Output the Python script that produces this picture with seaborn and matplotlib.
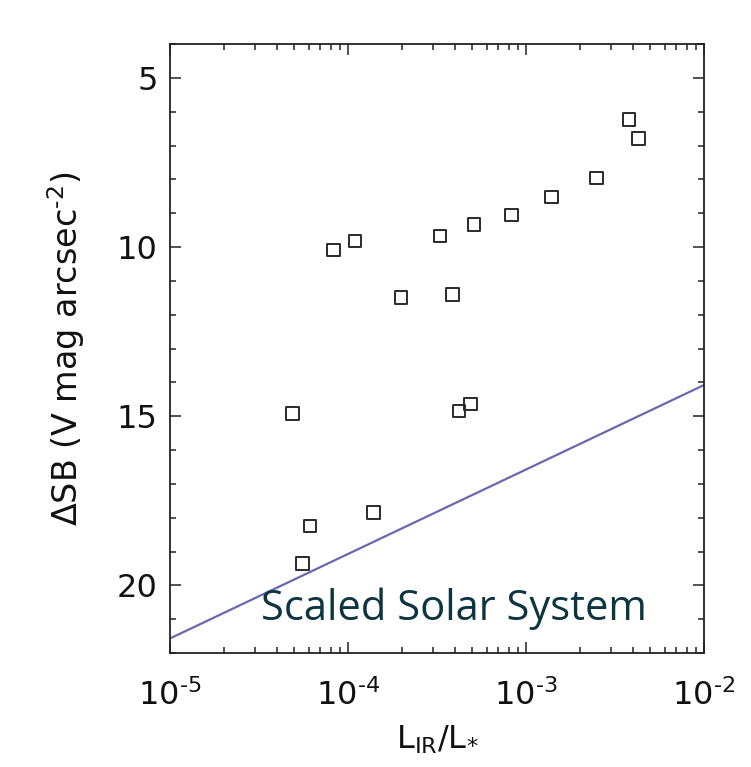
import numpy as np
import pandas as pd
import matplotlib
matplotlib.use("Agg")
import matplotlib.pyplot as plt
import seaborn as sns
from matplotlib.ticker import LogLocator, MultipleLocator, FixedLocator, FixedFormatter

# Data
lir = [4.86e-5, 5.57e-5, 6.11e-5, 8.27e-5, 1.095e-4, 1.387e-4, 1.985e-4,
       3.29e-4, 3.87e-4, 4.20e-4, 4.89e-4, 5.11e-4, 8.31e-4, 1.394e-3,
       2.49e-3, 3.80e-3, 4.30e-3]
dsb = [14.92, 19.36, 18.25, 10.09, 9.82, 17.85, 11.49,
       9.67, 11.40, 14.85, 14.64, 9.33, 9.06, 8.52,
       7.96, 6.24, 6.80]
solar_x = [1e-5, 1e-2]
solar_y = [21.57, 14.08]
yticks = [5, 10, 15, 20]
xticks = [1e-5, 1e-4, 1e-3, 1e-2]
xtick_labels = ["10$^{\u20105}$", "10$^{\u20104}$", "10$^{\u20103}$", "10$^{\u20102}$"]

sns.set_theme(style="ticks")
plt.rcParams['font.family'] = ['DejaVu Sans']
plt.rcParams['mathtext.fontset'] = 'custom'
plt.rcParams['mathtext.rm'] = 'DejaVu Sans'
plt.rcParams['mathtext.it'] = 'DejaVu Sans'
plt.rcParams['mathtext.default'] = 'regular'
plt.rcParams['axes.unicode_minus'] = False

fig = plt.figure(figsize=(7.51, 7.67), dpi=100)
ax = fig.add_axes([170/751, 1-653/767, (704-170)/751, (653-44)/767])

df = pd.DataFrame({"x": lir, "y": dsb})
sns.lineplot(x=solar_x, y=solar_y, ax=ax, color="#6868b0", linewidth=1.6)
sns.scatterplot(data=df, x="x", y="y", ax=ax, marker="s", s=82,
                facecolor="none", edgecolor="#2a2a2a", linewidth=1.4, zorder=3)

ax.set_xscale("log")
ax.set_xlim(1e-5, 1e-2)
ax.set_ylim(22, 4)
ax.set_yticks(yticks)
ax.yaxis.set_minor_locator(MultipleLocator(1))
ax.xaxis.set_major_locator(FixedLocator(xticks))
ax.xaxis.set_major_formatter(FixedFormatter(xtick_labels))
ax.xaxis.set_minor_locator(LogLocator(base=10, subs=np.arange(2, 10), numticks=20))

ax.tick_params(which="both", direction="in", top=True, right=True, colors="#222222",
               width=1.1)
ax.tick_params(which="major", length=8, labelsize=23, labelcolor="#111111")
ax.tick_params(which="minor", length=4.5)
ax.tick_params(axis="y", which="major", pad=9)
ax.tick_params(axis="x", which="major", pad=19)
for sp in ax.spines.values():
    sp.set_linewidth(1.3)
    sp.set_color("#222222")

ax.set_xlabel(r"L$_{IR}$/L$_{*}$", fontsize=23, color="#111111", labelpad=8)
ax.set_ylabel("\u0394SB (V mag arcsec$^{\u20102}$)", fontsize=24, color="#111111", labelpad=21)

ax.text(0.531, 0.054, "Scaled Solar System", transform=ax.transAxes,
        fontsize=30, family=["Open Sans", "DejaVu Sans"], color="#0d3441",
        ha="center", va="baseline")

fig.savefig("out.png", dpi=100)
